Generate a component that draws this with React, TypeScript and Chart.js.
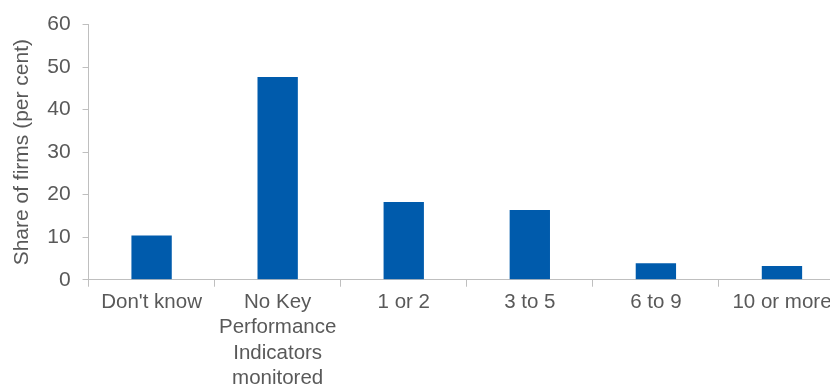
import React, { useEffect, useRef } from "react";
import { Chart, registerables } from "chart.js";

Chart.register(...registerables);

const categories: (string | string[])[] = [
  "Don't know",
  ["No Key", "Performance", "Indicators", "monitored"],
  "1 or 2",
  "3 to 5",
  "6 to 9",
  "10 or more",
];
const shareOfFirms = [10.4, 47.7, 18.3, 16.4, 3.9, 3.2];
const yTicks = { min: 0, max: 60, step: 10 };

export default function App() {
  const ref = useRef<HTMLCanvasElement | null>(null);
  useEffect(() => {
    if (!ref.current) return;
    const font = "'Liberation Sans', Arial, sans-serif";
    const chart = new Chart(ref.current, {
      type: "bar",
      data: {
        labels: categories,
        datasets: [
          {
            data: shareOfFirms,
            backgroundColor: "#005BAC",
            categoryPercentage: 1,
            barPercentage: 0.32,
          },
        ],
      },
      options: {
        animation: false,
        responsive: false,
        maintainAspectRatio: false,
        layout: { padding: { top: 17, left: 10, right: 0, bottom: 0 } },
        plugins: { legend: { display: false }, tooltip: { enabled: false } },
        scales: {
          x: {
            grid: {
              offset: true,
              drawOnChartArea: false,
              tickLength: 7,
              color: "#BFBFBF",
            },
            border: { color: "#BFBFBF", width: 1 },
            ticks: {
              color: "#595959",
              font: { family: font, size: 20.5, lineHeight: 1.235 },
              maxRotation: 0,
              autoSkip: false,
              padding: 3,
            },
          },
          y: {
            min: yTicks.min,
            max: yTicks.max,
            grid: { drawOnChartArea: false, tickLength: 6, color: "#BFBFBF" },
            border: { color: "#BFBFBF", width: 1 },
            ticks: {
              stepSize: yTicks.step,
              color: "#595959",
              font: { family: font, size: 21 },
              padding: 12,
            },
            title: {
              display: true,
              text: "Share of firms (per cent)",
              color: "#595959",
              font: { family: font, size: 21 },
              padding: { top: 0, bottom: 0 },
            },
          },
        },
      },
    });
    return () => chart.destroy();
  }, []);
  return (
    <div
      style={{
        position: "fixed",
        left: 0,
        top: 0,
        width: 830,
        height: 389,
        overflow: "hidden",
        background: "#fff",
      }}
    >
      <canvas ref={ref} width={845} height={394} style={{ display: "block" }} />
    </div>
  );
}
